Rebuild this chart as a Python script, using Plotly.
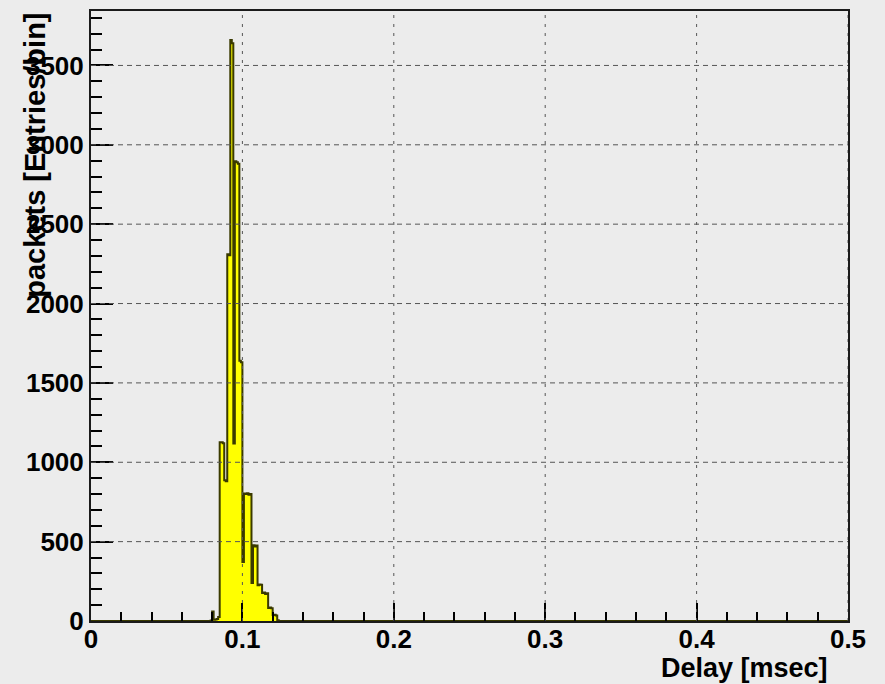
import plotly.graph_objects as go

# ---- data (histogram of packet delays, 0.001 msec bins) ----
bin_start = 0.078
bin_width = 0.001
counts = [0, 3, 60, 8, 10, 12, 25,
          1126, 1126, 1120, 886, 880, 2311, 2305, 3660, 3640, 1118,
          2896, 2890, 2880, 1640, 1630, 372,
          804, 800, 805, 795, 800, 239,
          477, 470, 475, 226, 230, 228,
          176, 180, 170, 175, 82, 85, 80, 38, 40, 35, 5, 0]

x_ticks = [0, 0.1, 0.2, 0.3, 0.4, 0.5]
x_labels = ["0", "0.1", "0.2", "0.3", "0.4", "0.5"]
y_ticks = [0, 500, 1000, 1500, 2000, 2500, 3000, 3500]
y_labels = ["0", "500", "1000", "1500", "2000", "2500", "3000", "3500"]

x_title = "Delay [msec]"
y_title = "packets [Entries/bin]"

# ---- build step outline ----
edges = [bin_start + i * bin_width for i in range(len(counts) + 1)]
step_x = [0.0] + edges + [0.5]
step_y = [0] + counts + [counts[-1], 0]

BG = "#ececec"
FONT = "Liberation Sans"

fig = go.Figure()
fig.add_trace(go.Scatter(
    x=step_x, y=step_y, mode="lines", line_shape="hv",
    line=dict(color="#3a3a00", width=2),
    fill="tozeroy", fillcolor="#ffff00", hoverinfo="skip", showlegend=False,
))

ymax = 1.05 * max(counts)

# gridlines drawn above the histogram, derived from tick lists
shapes = []
for v in x_ticks[1:]:
    shapes.append(dict(type="line", xref="x", yref="paper", x0=v, x1=v, y0=0, y1=1,
                       line=dict(color="#555555", width=1, dash="3px,6px"), layer="above"))
for v in y_ticks[1:]:
    shapes.append(dict(type="line", xref="paper", yref="y", x0=0, x1=1, y0=v, y1=v,
                       line=dict(color="#555555", width=1, dash="5px,4px"), layer="above"))

tickfont = dict(family=FONT, size=26, color="black", weight="bold")

fig.update_xaxes(
    range=[0, 0.5], tickmode="array", tickvals=x_ticks, ticktext=x_labels,
    ticks="inside", ticklen=18, tickwidth=1.5, tickcolor="black",
    minor=dict(tickmode="linear", tick0=0, dtick=0.02, ticks="inside", ticklen=9,
               tickwidth=1.5, tickcolor="black", showgrid=False),
    showgrid=False, zeroline=False, showline=True, mirror=True,
    linecolor="#1a1a1a", linewidth=2, tickfont=tickfont, layer="above traces",
    ticklabelstandoff=-6,
)
fig.update_yaxes(
    range=[0, ymax], tickmode="array", tickvals=y_ticks, ticktext=y_labels,
    ticks="inside", ticklen=22, tickwidth=1.5, tickcolor="black",
    minor=dict(tickmode="linear", tick0=0, dtick=100, ticks="inside", ticklen=11,
               tickwidth=1.5, tickcolor="black", showgrid=False),
    showgrid=False, zeroline=False, showline=True, mirror=True,
    linecolor="#1a1a1a", linewidth=2, tickfont=tickfont, layer="above traces",
)

fig.update_layout(
    width=885, height=684,
    margin=dict(l=91, r=37, t=9, b=63),
    paper_bgcolor=BG, plot_bgcolor=BG,
    shapes=shapes,
    annotations=[
        dict(text=x_title, xref="paper", yref="paper", x=0.976, y=-0.077,
             xanchor="right", yanchor="middle", showarrow=False,
             font=dict(family=FONT, size=27, color="black", weight="bold")),
        dict(text=y_title, xref="paper", yref="paper", x=-0.075, y=1.0,
             xanchor="center", yanchor="top", textangle=-90, showarrow=False,
             font=dict(family=FONT, size=29, color="black", weight="bold")),
    ],
)

fig.write_html("out.html", config={"displayModeBar": False},
               post_script="document.body.style.margin='0';document.body.style.background='#ececec';")
